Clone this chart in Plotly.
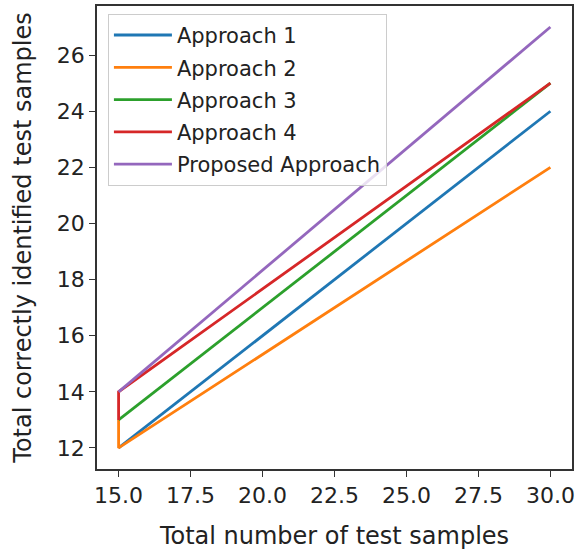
import plotly.graph_objects as go

x_samples = [15, 15, 30]
names = ["Approach 1", "Approach 2", "Approach 3", "Approach 4", "Proposed Approach"]
approach1 = [12, 12, 24]
approach2 = [13, 12, 22]
approach3 = [13, 13, 25]
approach4 = [13, 14, 25]
proposed = [14, 14, 27]
series = [approach1, approach2, approach3, approach4, proposed]
colors = ["#1f77b4", "#ff7f0e", "#2ca02c", "#d62728", "#9467bd"]

x_ticks = [15.0, 17.5, 20.0, 22.5, 25.0, 27.5, 30.0]
y_ticks = [12, 14, 16, 18, 20, 22, 24, 26]

fig = go.Figure()
for name, ys, c in zip(names, series, colors):
    fig.add_trace(go.Scatter(x=x_samples, y=ys, mode="lines", name=name,
                             legendgroup=name,
                             line=dict(color=c, width=2.8)))

font = "DejaVu Sans"
fig.update_layout(
    width=579, height=555,
    margin=dict(l=97, r=4, t=6, b=86),
    paper_bgcolor="white", plot_bgcolor="white",
    font=dict(family=font, color="#222"),
    showlegend=True,
    legend=dict(x=0.023, y=0.983, xanchor="left", yanchor="top",
                bgcolor="rgba(255,255,255,0.8)", bordercolor="#cccccc", borderwidth=1,
                font=dict(size=21, family=font, color="#222"),
                tracegroupgap=2, itemwidth=58),
    xaxis=dict(range=[14.25, 30.75], tickvals=x_ticks,
               ticktext=[f"{v:.1f}" for v in x_ticks],
               showgrid=False, zeroline=False,
               showline=True, linecolor="#333", linewidth=1.5, mirror=True,
               ticks="outside", ticklen=6, tickcolor="#333",
               tickfont=dict(size=22),
               title=dict(text="Total number of test samples", font=dict(size=24), standoff=20)),
    yaxis=dict(range=[11.25, 27.75], tickvals=y_ticks,
               showgrid=False, zeroline=False,
               showline=True, linecolor="#333", linewidth=1.5, mirror=True,
               ticks="outside", ticklen=6, tickcolor="#333",
               tickfont=dict(size=22),
               title=dict(text="Total correctly identified test samples", font=dict(size=24), standoff=18)),
)

fig.write_html("out.html", config={"displayModeBar": False},
               post_script="document.body.style.margin='0';document.body.style.overflow='hidden';")
